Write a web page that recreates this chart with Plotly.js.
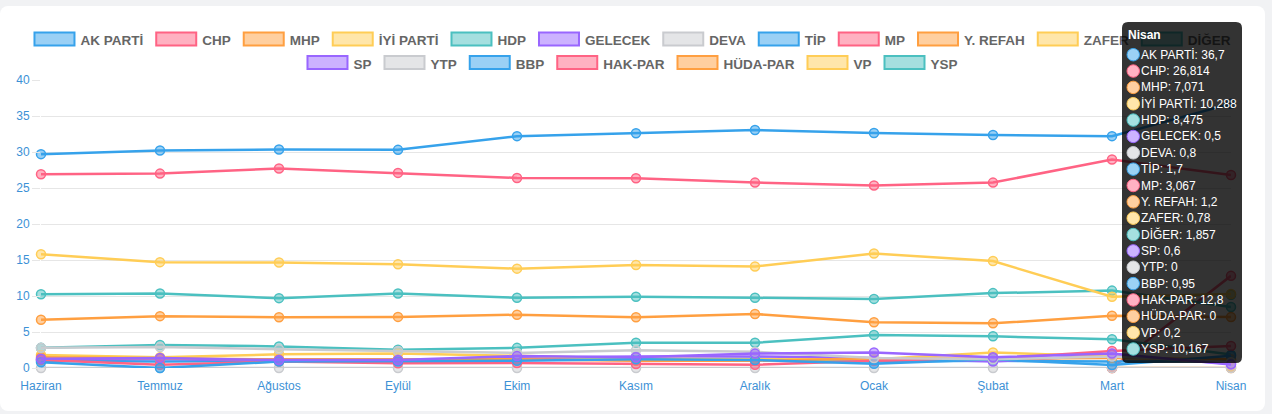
<!DOCTYPE html>
<html><head><meta charset="utf-8">
<script src="https://cdn.plot.ly/plotly-3.0.1.min.js"></script>
<style>
html,body{margin:0;padding:0;background:#f1f2f4;width:1272px;height:414px;overflow:hidden;}
#card{position:absolute;left:0;top:6px;width:1265px;height:405px;background:#fff;border-radius:8px;}
#chart{position:absolute;left:0;top:0;width:1272px;height:414px;}
</style></head><body>
<div id="card"></div><div id="chart"></div>
<script>
// ---- data ----
const months = ['Haziran','Temmuz','Ağustos','Eylül','Ekim','Kasım','Aralık','Ocak','Şubat','Mart','Nisan'];
const akParti  = [29.7, 30.2, 30.35, 30.3, 32.2, 32.6, 33.05, 32.65, 32.35, 32.2, 36.7];
const chp      = [26.9, 27.0, 27.7, 27.1, 26.4, 26.35, 25.75, 25.35, 25.75, 28.95, 26.814];
const mhp      = [6.7, 7.2, 7.05, 7.1, 7.4, 7.05, 7.5, 6.35, 6.2, 7.25, 7.071];
const iyiParti = [15.8, 14.7, 14.65, 14.4, 13.8, 14.3, 14.1, 15.9, 14.85, 9.9, 10.288];
const hdp      = [10.25, 10.35, 9.7, 10.35, 9.75, 9.9, 9.75, 9.6, 10.4, 10.75, 8.475];
const gelecek  = [1.3, 1.4, 1.1, 1.1, 1.65, 1.5, 2.0, 2.15, 1.5, 2.0, 0.5];
const deva     = [2.8, 2.9, 2.6, 2.35, 2.1, 2.45, 2.25, 1.4, 1.2, 1.6, 0.8];
const tip      = [0.8, 0, 0.9, 0.9, 1.0, 1.2, 1.1, 0.6, 1.2, 0.4, 1.7];
const mp       = [1.1, 0.45, 0.9, 0.65, 0.7, 0.55, 0.45, 1.0, 1.3, 2.35, 3.067];
const yRefah   = [1.5, 1.3, 1.2, 1.2, 1.2, 1.0, 1.0, 1.35, 1.3, 1.4, 1.2];
const zafer    = [1.8, 1.5, 1.9, 2.0, 1.7, 1.3, 1.2, 1.2, 2.15, 1.6, 0.78];
const diger    = [2.8, 3.2, 3.0, 2.55, 2.8, 3.5, 3.5, 4.6, 4.4, 4.0, 1.857];
const sp       = [1.2, 1.3, 1.0, 1.0, 1.4, 1.6, 1.6, 1.4, 0.9, 1.8, 0.6];
const ytp      = [0, 0, 0, 0, 0, 0, 0, 0, 0, 0, 0];
const bbp      = [1.0, 0.9, 1.0, 1.0, 1.2, 1.1, 1.3, 0.9, 1.0, 0.9, 0.95];
const hakPar   = [null, null, null, null, null, null, null, null, null, 0, 12.8];
const hudaPar  = [null, null, null, null, null, null, null, null, null, 0, 0];
const vp       = [null, null, null, null, null, null, null, null, null, null, 0.2];
const ysp      = [null, null, null, null, null, null, null, null, null, null, 10.167];
const yTicks   = [0, 5, 10, 15, 20, 25, 30, 35, 40];

const series = [
  ['AK PARTİ', akParti], ['CHP', chp], ['MHP', mhp], ['İYİ PARTİ', iyiParti], ['HDP', hdp],
  ['GELECEK', gelecek], ['DEVA', deva], ['TİP', tip], ['MP', mp], ['Y. REFAH', yRefah],
  ['ZAFER', zafer], ['DİĞER', diger], ['SP', sp], ['YTP', ytp], ['BBP', bbp],
  ['HAK-PAR', hakPar], ['HÜDA-PAR', hudaPar], ['VP', vp], ['YSP', ysp]
];
const palette = [[54,162,235],[255,99,132],[255,159,64],[255,205,86],[75,192,192],[153,102,255],[201,203,207]];

// ---- geometry ----
const W = 1272, H = 414, ML = 41, MR = 41, MT = 80, MB = 46;
const PW = W - ML - MR, PH = H - MT - MB;
const px2x = p => (p - ML) / PW;
const py2y = p => (H - MB - p) / PH;
const FONT = 'Liberation Sans, Arial, sans-serif';

const col = (c, a) => a === undefined ? `rgb(${c[0]},${c[1]},${c[2]})` : `rgba(${c[0]},${c[1]},${c[2]},${a})`;
const pastel = c => `rgb(${Math.round((c[0]+255)/2)},${Math.round((c[1]+255)/2)},${Math.round((c[2]+255)/2)})`;

// ---- traces (first dataset drawn on top, as in the original) ----
const traces = series.map(([name, vals], i) => {
  const c = palette[i % 7];
  return {
    type: 'scatter', mode: 'lines+markers', name, x: months, y: vals,
    line: {color: col(c), width: 2.5},
    marker: {size: 9, color: col(c, 0.5), line: {color: col(c), width: 1.5}},
    cliponaxis: false, connectgaps: false, showlegend: false, hoverinfo: 'skip'
  };
}).reverse();

// ---- custom legend (boxes + labels as shapes so tooltip covers them) ----
const shapes = [], annotations = [];
const ctx = document.createElement('canvas').getContext('2d');
const LFS = 13.5;
ctx.font = `bold ${LFS}px "Liberation Sans"`;
const rows = [series.slice(0, 12), series.slice(12)];
const rowY = [39, 62.5];
const boxW = 40, boxH = 13, gap = 7, pad = 12, cx = 633, labelShift = -4;
let idx = 0;
rows.forEach((row, ri) => {
  const tw = row.map(s => ctx.measureText(s[0]).width);
  const total = tw.reduce((a, w) => a + boxW + gap + w, 0) + pad * (row.length - 1);
  let x = cx - total / 2;
  const cy = rowY[ri];
  row.forEach((s, k) => {
    const c = palette[idx % 7];
    shapes.push({type: 'rect', xref: 'paper', yref: 'paper', layer: 'above',
      x0: px2x(x), x1: px2x(x + boxW), y0: py2y(cy + boxH / 2), y1: py2y(cy - boxH / 2),
      fillcolor: col(c, 0.5), line: {color: col(c), width: 2}});
    const tx = x + boxW + gap;
    shapes.push({type: 'rect', xref: 'paper', yref: 'paper', layer: 'above',
      x0: px2x(tx + labelShift), x1: px2x(tx + labelShift + tw[k]), y0: py2y(cy + 6), y1: py2y(cy - 6),
      fillcolor: 'rgba(0,0,0,0)', line: {width: 0},
      label: {text: s[0], textposition: 'middle left', xanchor: 'left', padding: 0,
        font: {family: FONT, size: LFS, color: '#666666', weight: 'bold'}}});
    x = tx + tw[k] + pad;
    idx++;
  });
});

// ---- tooltip for the last month ----
const last = months.length - 1;
const tx0 = 1122, tx1 = 1242, ty0 = 22, ty1 = 363, r = 6;
const P = (x, y) => `${px2x(x)},${py2y(y)}`;
shapes.push({type: 'path', xref: 'paper', yref: 'paper', layer: 'above',
  path: `M${P(tx0 + r, ty0)} L${P(tx1 - r, ty0)} Q${P(tx1, ty0)} ${P(tx1, ty0 + r)} L${P(tx1, ty1 - r)} Q${P(tx1, ty1)} ${P(tx1 - r, ty1)} L${P(tx0 + r, ty1)} Q${P(tx0, ty1)} ${P(tx0, ty1 - r)} L${P(tx0, ty0 + r)} Q${P(tx0, ty0)} ${P(tx0 + r, ty0)} Z`,
  fillcolor: 'rgba(0,0,0,0.8)', line: {width: 0}});
annotations.push({xref: 'paper', yref: 'paper', x: px2x(1127), y: py2y(35), xanchor: 'left', yanchor: 'middle',
  showarrow: false, text: '<b>' + months[last] + '</b>', font: {family: FONT, size: 12, color: '#ffffff'}, borderpad: 0});
series.forEach(([name, vals], i) => {
  const c = palette[i % 7];
  const cy = 54.7 + i * 16.35;
  shapes.push({type: 'circle', xref: 'paper', yref: 'paper', layer: 'above',
    x0: px2x(1127), x1: px2x(1139.5), y0: py2y(cy + 6.25), y1: py2y(cy - 6.25),
    fillcolor: pastel(c), line: {color: col(c), width: 1}});
  const v = vals[last];
  annotations.push({xref: 'paper', yref: 'paper', x: px2x(1140), y: py2y(cy), xanchor: 'left', yanchor: 'middle',
    showarrow: false, text: name + ': ' + String(v).replace('.', ','),
    font: {family: FONT, size: 12, color: '#ffffff'}, borderpad: 0});
});

const layout = {
  width: W, height: H,
  margin: {l: ML, r: MR, t: MT, b: MB, pad: 0},
  paper_bgcolor: 'rgba(0,0,0,0)', plot_bgcolor: 'rgba(0,0,0,0)',
  font: {family: FONT, size: 12, color: '#3c91d6'},
  showlegend: false,
  xaxis: {type: 'category', range: [0, months.length - 1], showgrid: false, zeroline: false, showline: false,
    ticks: 'outside', ticklen: 7, tickcolor: 'rgba(0,0,0,0)', tickfont: {family: FONT, size: 12, color: '#3c91d6'}},
  yaxis: {range: [0, 40], tickmode: 'array', tickvals: yTicks, ticktext: yTicks.map(String),
    showgrid: true, gridcolor: '#e6e6e6', gridwidth: 1, zeroline: false, showline: false,
    ticks: 'outside', ticklen: 8, tickcolor: '#e6e6e6', tickfont: {family: FONT, size: 12, color: '#3c91d6'}},
  shapes, annotations
};
Plotly.newPlot('chart', traces, layout, {staticPlot: true, displayModeBar: false});
</script>
</body></html>
